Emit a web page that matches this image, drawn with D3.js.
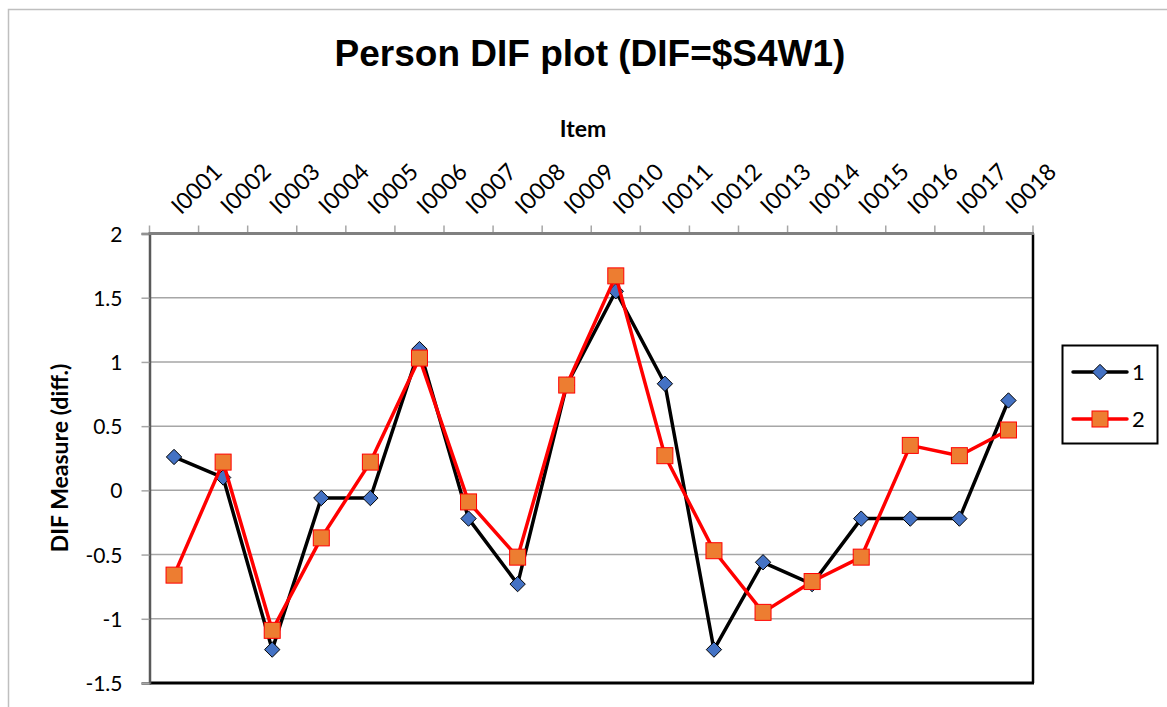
<!DOCTYPE html>
<html>
<head>
<meta charset="utf-8">
<script src="https://cdn.jsdelivr.net/npm/d3@7"></script>
<style>
  html, body { margin: 0; padding: 0; background: #fff; }
  svg { display: block; }
</style>
</head>
<body>
<svg id="chart" width="1167" height="707"></svg>
<script>
// Item labels along the top category axis
const items = ["I0001","I0002","I0003","I0004","I0005","I0006","I0007","I0008","I0009",
               "I0010","I0011","I0012","I0013","I0014","I0015","I0016","I0017","I0018"];
// DIF measure per item for each person group
const group1 = [0.26, 0.10, -1.24, -0.06, -0.06, 1.10, -0.22, -0.73, 0.82,
                1.55, 0.83, -1.24, -0.56, -0.73, -0.22, -0.22, -0.22, 0.70];
const group2 = [-0.66, 0.22, -1.09, -0.37, 0.22, 1.03, -0.09, -0.52, 0.82,
                1.67, 0.27, -0.47, -0.95, -0.71, -0.52, 0.35, 0.27, 0.47];
const seriesNames = ["1", "2"];
const yTicks = [-1.5, -1, -0.5, 0, 0.5, 1, 1.5, 2];

const svg = d3.select("#chart");
const plot = { left: 149.5, right: 1033, top: 233.5, bottom: 683 };

// outer chart frame
svg.append("rect")
  .attr("x", 8.5).attr("y", 9.5).attr("width", 1300).attr("height", 900)
  .attr("fill", "#fff").attr("stroke", "#bfbfbf").attr("stroke-width", 1.5);

const x = d3.scaleBand().domain(items).range([plot.left, plot.right]);
const y = d3.scaleLinear().domain([-1.5, 2]).range([plot.bottom, plot.top]);

const sansNum = "Lato, 'Open Sans', sans-serif";

// title
svg.append("text")
  .attr("x", 590).attr("y", 66)
  .attr("text-anchor", "middle")
  .attr("font-family", "'Liberation Sans', Arial, sans-serif")
  .attr("font-weight", "bold").attr("font-size", 37)
  .text("Person DIF plot (DIF=$S4W1)");

// category axis title
svg.append("text")
  .attr("x", 583).attr("y", 137)
  .attr("text-anchor", "middle")
  .attr("font-family", sansNum).attr("font-weight", "bold").attr("font-size", 23)
  .text("Item");

// value axis title
svg.append("text")
  .attr("transform", "translate(68,458) rotate(-90)")
  .attr("text-anchor", "middle")
  .attr("font-family", sansNum).attr("font-weight", "bold").attr("font-size", 23)
  .text("DIF Measure (diff.)");

// horizontal gridlines
svg.append("g").selectAll("line")
  .data(yTicks.filter(v => v > -1.5 && v < 2))
  .join("line")
  .attr("x1", plot.left).attr("x2", plot.right)
  .attr("y1", d => y(d)).attr("y2", d => y(d))
  .attr("stroke", "#a6a6a6").attr("stroke-width", 1.5);

// plot area frame (dark right/bottom edges)
svg.append("line")
  .attr("x1", plot.left).attr("x2", plot.right + 1)
  .attr("y1", plot.bottom).attr("y2", plot.bottom)
  .attr("stroke", "#000").attr("stroke-width", 3);
svg.append("line")
  .attr("x1", plot.right).attr("x2", plot.right)
  .attr("y1", plot.top).attr("y2", plot.bottom)
  .attr("stroke", "#000").attr("stroke-width", 2.5);

// left value axis
const yAxis = d3.axisLeft(y).tickValues(yTicks).tickSize(8).tickPadding(19)
  .tickFormat(d => String(d));
const gy = svg.append("g").attr("transform", `translate(${plot.left},0)`).call(yAxis);
gy.select(".domain").attr("stroke", "#595959").attr("stroke-width", 2.5);
gy.selectAll(".tick line").attr("stroke", "#a6a6a6").attr("stroke-width", 1.5);
gy.selectAll(".tick text")
  .attr("font-family", sansNum).attr("font-size", 21).attr("fill", "#000")
  .attr("dy", "0.36em");

// top category axis with ticks between categories
const boundaries = items.map(d => x(d)).concat([plot.right]);
svg.append("g").selectAll("line")
  .data(boundaries)
  .join("line")
  .attr("x1", d => d).attr("x2", d => d)
  .attr("y1", plot.top - 8).attr("y2", plot.top)
  .attr("stroke", "#a6a6a6").attr("stroke-width", 1.5);
svg.append("line")
  .attr("x1", plot.left - 1).attr("x2", plot.right + 1)
  .attr("y1", plot.top).attr("y2", plot.top)
  .attr("stroke", "#808080").attr("stroke-width", 3);

svg.append("g").selectAll("text")
  .data(items)
  .join("text")
  .attr("transform", d => `translate(${x(d) + x.bandwidth() / 2 + 7},${plot.top - 18}) rotate(-45)`)
  .attr("text-anchor", "start")
  .attr("font-family", sansNum).attr("font-size", 23).attr("fill", "#000")
  .text(d => d);

// series
const cx = (d, i) => x(items[i]) + x.bandwidth() / 2;
const line = d3.line().x((d, i) => cx(d, i)).y(d => y(d));

const diamond = d3.symbol().type(d3.symbolDiamond2).size(150);

function drawSeries(values, color, kind) {
  const g = svg.append("g");
  g.append("path").datum(values)
    .attr("d", line).attr("fill", "none")
    .attr("stroke", color).attr("stroke-width", 3.5).attr("stroke-linejoin", "round");
  if (kind === "diamond") {
    g.selectAll("path.m").data(values).join("path").attr("class", "m")
      .attr("d", diamond)
      .attr("transform", (d, i) => `translate(${cx(d, i)},${y(d)})`)
      .attr("fill", "#4472c4").attr("stroke", "#000").attr("stroke-width", 1);
  } else {
    g.selectAll("rect.m").data(values).join("rect").attr("class", "m")
      .attr("x", (d, i) => cx(d, i) - 8).attr("y", d => y(d) - 8)
      .attr("width", 16).attr("height", 16)
      .attr("fill", "#ed7d31").attr("stroke", "#ff0000").attr("stroke-width", 1);
  }
}
drawSeries(group1, "#000", "diamond");
drawSeries(group2, "#ff0000", "square");

// legend
const lg = svg.append("g");
lg.append("rect").attr("x", 1062.5).attr("y", 345.5).attr("width", 95).attr("height", 98)
  .attr("fill", "#fff").attr("stroke", "#000").attr("stroke-width", 2);
const legendRows = [
  { name: seriesNames[0], color: "#000", kind: "diamond", yy: 372 },
  { name: seriesNames[1], color: "#ff0000", kind: "square", yy: 419 }
];
legendRows.forEach(r => {
  lg.append("line").attr("x1", 1073).attr("x2", 1127).attr("y1", r.yy).attr("y2", r.yy)
    .attr("stroke", r.color).attr("stroke-width", 3.5).attr("stroke-linecap", "round");
  if (r.kind === "diamond") {
    lg.append("path").attr("d", diamond).attr("transform", `translate(1100,${r.yy})`)
      .attr("fill", "#4472c4").attr("stroke", "#000").attr("stroke-width", 1);
  } else {
    lg.append("rect").attr("x", 1092).attr("y", r.yy - 8).attr("width", 16).attr("height", 16)
      .attr("fill", "#ed7d31").attr("stroke", "#ff0000").attr("stroke-width", 1);
  }
  lg.append("text").attr("x", 1132).attr("y", r.yy).attr("dy", "0.36em")
    .attr("font-family", sansNum).attr("font-size", 22).attr("fill", "#000")
    .text(r.name);
});
</script>
</body>
</html>
